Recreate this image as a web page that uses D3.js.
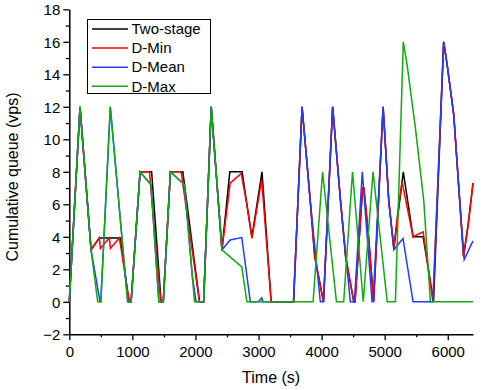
<!DOCTYPE html>
<html>
<head>
<meta charset="utf-8">
<script src="https://cdn.jsdelivr.net/npm/d3@7"></script>
<style>
  body { margin: 0; background: #fff; }
  text { font-family: "Liberation Sans", Arial, sans-serif; fill: #000; }
</style>
</head>
<body>
<svg id="chart" width="484" height="390"></svg>
<script>
// series: [time (s), cumulative queue (vps)]
var twoStage = [[0,0],[170,12],[345,3.2],[476,3.93],[810,3.93],[945,0],[980,0],[1122,8],[1305,8],[1455,0],[1490,0],
  [1603,8],[1800,8],[2065,0],[2130,0],[2250,12],[2420,3.2],[2545,8],[2740,8],[2815,6.0],[2895,4.0],[3055,8],[3200,0],
  [3555,0],[3690,12],[3820,6.2],[3890,2.8],[4030,0],[4175,12],[4300,6.2],[4380,2.8],[4510,0],[4530,0],[4650,7],[4670,7],
  [4745,4],[4825,0],[4975,12],[5065,6.2],[5145,3.3],[5295,8],[5450,4.0],[5610,4.0],[5775,0],[5935,16],[5990,14.6],
  [6095,11.5],[6175,7.0],[6250,2.8],[6325,4.8],[6400,7.3]];

var dMin = [[0,0],[170,12],[345,3.2],[476,3.93],[493,3.28],[635,3.93],[651,3.28],[794,3.93],[952,0],[980,0],[1122,8],
  [1270,8],[1450,0],[1490,0],[1603,8],[1773,8],[2063,0],[2130,0],[2250,12],[2420,3.2],[2550,7.3],[2725,7.9],[2815,6.0],
  [2895,3.9],[3050,7.5],[3200,0],[3555,0],[3690,12],[3820,6.2],[3890,2.8],[4030,0],[4175,12],[4300,6.2],[4380,2.8],
  [4510,0],[4530,0],[4650,7],[4670,7],[4745,4],[4825,0],[4975,12],[5065,6.2],[5145,3.3],[5205,5.4],[5275,7.4],
  [5450,4.0],[5610,4.3],[5765,0],[5935,16],[5990,14.6],[6095,11.5],[6175,7.0],[6250,2.8],[6325,4.8],[6400,7.3]];

var dMean = [[0,0],[170,12],[345,3.2],[487,0],[500,0],[650,12],[925,0],[980,0],[1122,8],[1295,7.2],[1420,0],[1490,0],
  [1603,8],[1825,7.2],[1950,1.6],[2010,0],[2130,0],[2250,12],[2420,3.2],[2550,3.8],[2735,3.95],[2870,0],[3000,0],
  [3050,0.25],[3070,0],[3555,0],[3690,12],[3820,6.2],[3980,0],[4030,0],[4175,12],[4300,6.2],[4455,0],[4520,0],[4645,8],
  [4800,0],[4815,0],[4975,12],[5065,6.2],[5145,3.2],[5290,3.9],[5450,0],[5765,0],[5935,16],[5990,14.6],[6095,11.5],
  [6175,7.0],[6260,2.6],[6400,3.75]];

var dMax = [[0,0],[170,12],[345,3.2],[450,0],[500,0],[650,12],[925,0],[980,0],[1122,8],[1295,7.2],[1420,0],[1490,0],
  [1603,8],[1825,7.2],[1985,0],[2130,0],[2250,12],[2420,3.2],[2735,2.15],[2815,0],[3865,0],[4015,8],[4235,0],[4350,0],
  [4490,8],[4660,0],[4815,8],[5040,0],[5170,0],[5295,16],[5355,14.6],[5490,10.6],[5620,6.2],[5725,0],[6400,0]];

var seriesNames = ["Two-stage", "D-Min", "D-Mean", "D-Max"];
var seriesColors = ["#000000", "#ff0000", "#1f3cff", "#12a812"];
var seriesData = [twoStage, dMin, dMean, dMax];

var xMajor = [0, 1000, 2000, 3000, 4000, 5000, 6000];
var xMinor = [500, 1500, 2500, 3500, 4500, 5500];
var yMajor = [-2, 0, 2, 4, 6, 8, 10, 12, 14, 16, 18];
var yMinor = [-1, 1, 3, 5, 7, 9, 11, 13, 15, 17];

var plotLeft = 69.3, plotRight = 473, plotTop = 9.3, plotBottom = 334.3;

var svg = d3.select("#chart");

var x = d3.scaleLinear().domain([0, 6400]).range([plotLeft, plotRight]);
var y = d3.scaleLinear().domain([-2, 18]).range([plotBottom, plotTop]);

// minor ticks first, then major axis with labels
svg.append("g")
  .attr("transform", "translate(0," + plotBottom + ")")
  .call(d3.axisBottom(x).tickValues(xMinor).tickSize(3).tickSizeOuter(0).tickFormat(""))
  .call(function(g) { g.select(".domain").remove(); });

svg.append("g")
  .attr("transform", "translate(" + plotLeft + ",0)")
  .call(d3.axisLeft(y).tickValues(yMinor).tickSize(3.5).tickSizeOuter(0).tickFormat(""))
  .call(function(g) { g.select(".domain").remove(); });

var xAxis = svg.append("g")
  .attr("transform", "translate(0," + plotBottom + ")")
  .call(d3.axisBottom(x).tickValues(xMajor).tickSize(6).tickSizeOuter(0).tickPadding(6).tickFormat(d3.format("d")));

var yAxis = svg.append("g")
  .attr("transform", "translate(" + plotLeft + ",0)")
  .call(d3.axisLeft(y).tickValues(yMajor).tickSize(6).tickSizeOuter(0).tickPadding(3).tickFormat(d3.format("d")));

svg.selectAll(".tick line").attr("stroke", "#000").attr("stroke-width", 1.3);
svg.selectAll(".domain").attr("stroke", "#000").attr("stroke-width", 1.5);
svg.selectAll(".tick text").style("font-size", "15px").attr("fill", "#000");
xAxis.selectAll(".tick text").attr("dy", "0.72em");
yAxis.selectAll(".tick text").attr("dy", "0.35em");

// axis titles
svg.append("text")
  .attr("x", (plotLeft + plotRight) / 2)
  .attr("y", 383)
  .attr("text-anchor", "middle")
  .style("font-size", "16px")
  .text("Time (s)");

svg.append("text")
  .attr("transform", "translate(18," + 177 + ") rotate(-90)")
  .attr("text-anchor", "middle")
  .style("font-size", "16px")
  .text("Cumulative queue (vps)");

// the four queue curves, D-Max drawn last (on top)
var line = d3.line()
  .x(function(d) { return x(d[0]); })
  .y(function(d) { return y(d[1]); });

svg.append("g")
  .selectAll("path")
  .data(seriesData)
  .join("path")
  .attr("d", line)
  .attr("fill", "none")
  .attr("stroke", function(d, i) { return seriesColors[i]; })
  .attr("stroke-width", 1.5)
  .attr("stroke-linejoin", "miter");

// legend
var legend = svg.append("g");
legend.append("rect")
  .attr("x", 87.5).attr("y", 19.5)
  .attr("width", 123).attr("height", 74)
  .attr("fill", "#fff")
  .attr("stroke", "#000")
  .attr("stroke-width", 1);

var rowY = d3.scalePoint().domain(seriesNames).range([29, 86.3]);

var rows = legend.selectAll("g.row")
  .data(seriesNames)
  .join("g")
  .attr("class", "row")
  .attr("transform", function(d) { return "translate(0," + rowY(d) + ")"; });

rows.append("line")
  .attr("x1", 92).attr("x2", 128)
  .attr("stroke", function(d, i) { return seriesColors[i]; })
  .attr("stroke-width", 1.5);

rows.append("text")
  .attr("x", 131.5)
  .attr("dy", "0.35em")
  .style("font-size", "15px")
  .text(function(d) { return d; });
</script>
</body>
</html>
